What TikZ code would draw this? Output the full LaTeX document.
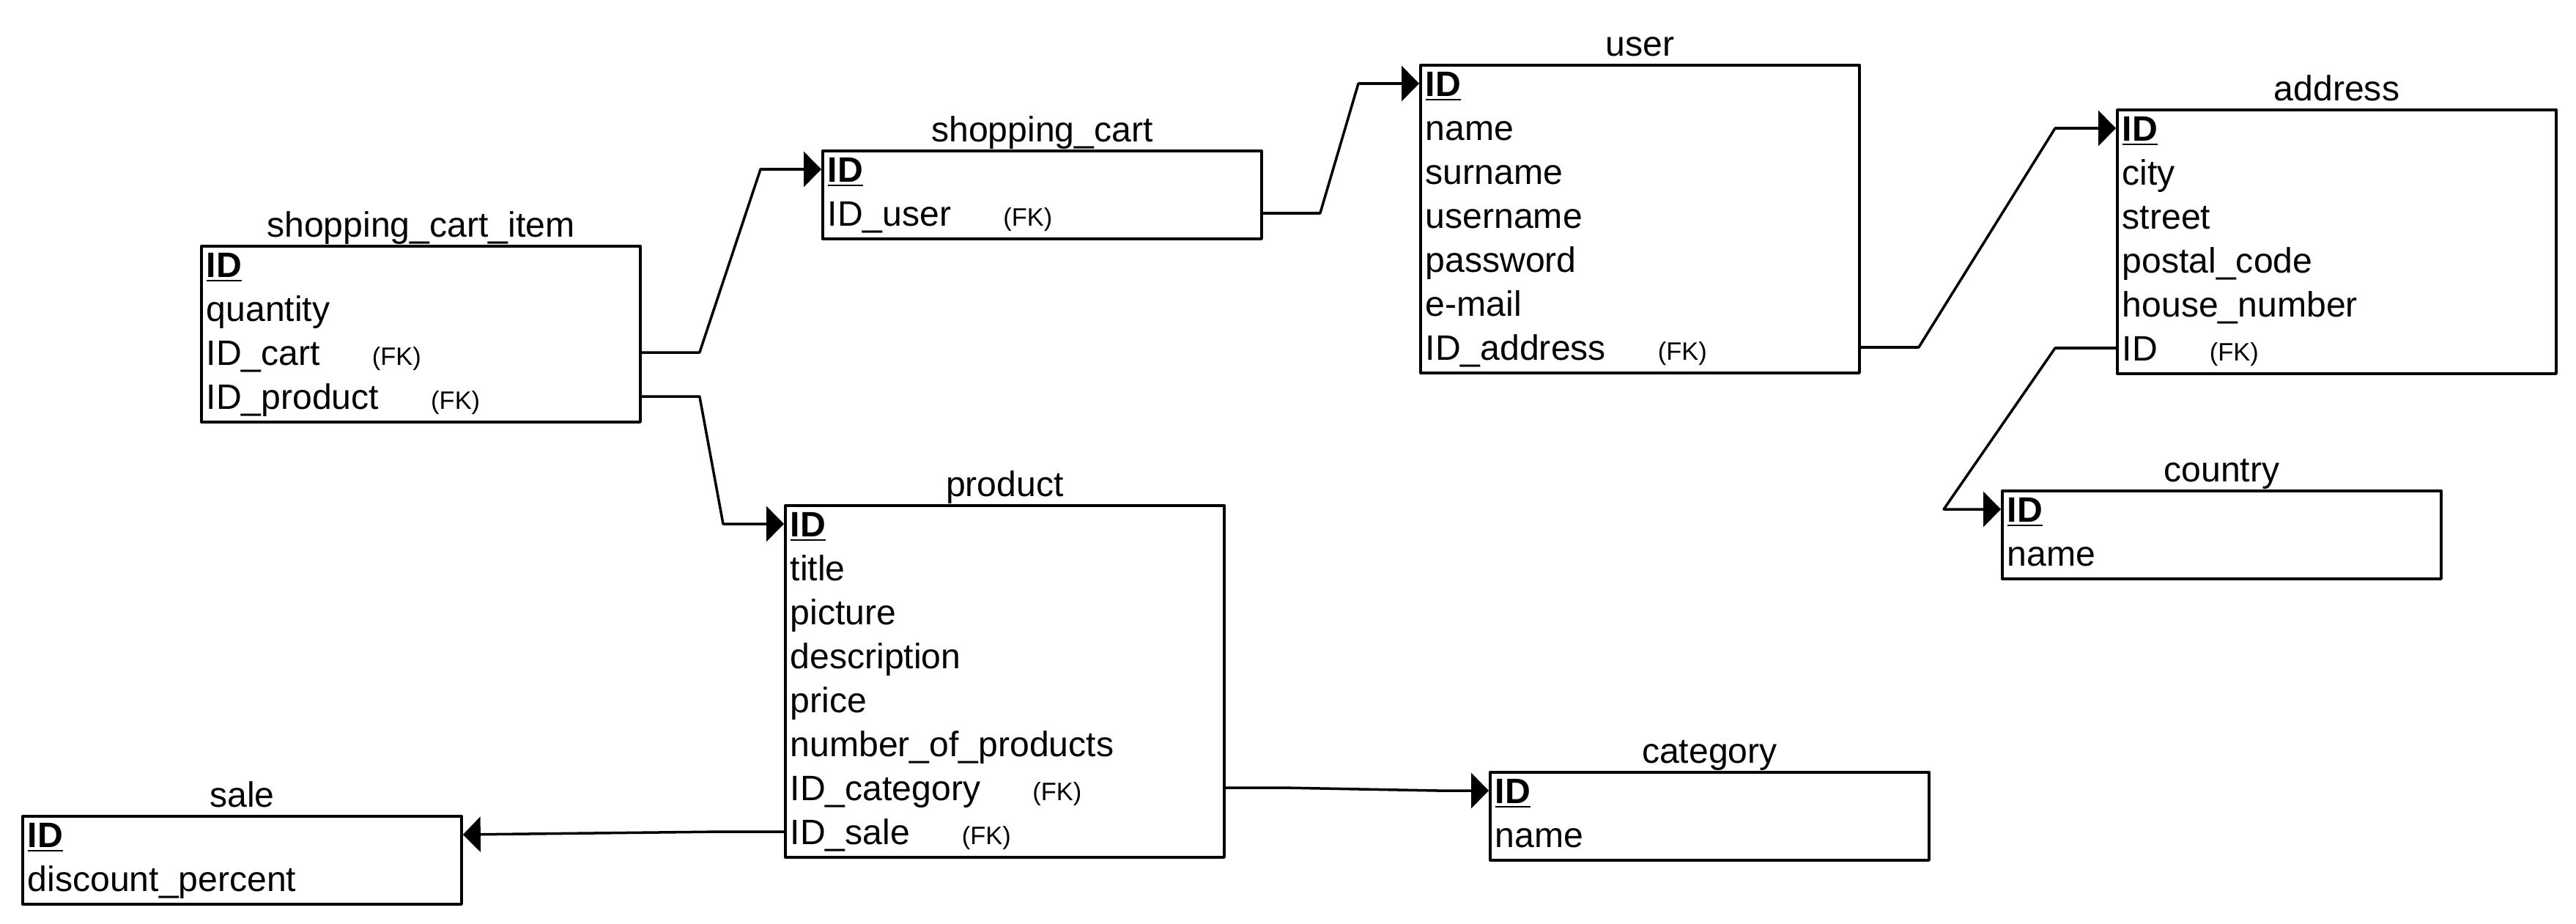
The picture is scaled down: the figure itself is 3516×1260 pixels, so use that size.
\documentclass[tikz,border=0pt]{standalone}
\usepackage{fontspec}
\setmainfont{Liberation Sans}
\usetikzlibrary{calc,arrows.meta}
\newcommand{\fk}{\hspace{7.1mm}{\fontsize{9.8}{11}\selectfont(FK)}}
\newcommand{\pk}{\textbf{\underline{ID}}}
\tikzset{erd/.style={
  x=0.1mm,y=-0.1mm,
  >={Triangle[length=2.4mm,width=4.8mm]},
  line join=round,font=\fontsize{13.7}{16}\selectfont
},
tablebox/.style={draw,line width=1.1pt,anchor=north west,minimum width=59.9mm,inner sep=0pt},
tabletitle/.style={anchor=base,inner sep=0pt},
field/.style={anchor=west,inner sep=0pt,text height=3.4mm,text depth=0pt},
fkline/.style={line width=1pt,->}
}
% name, x, y, rows, title, fields
\newcommand{\dbtable}[6]{%
  \node[tablebox,minimum height=#4*6mm] (#1) at (#2,#3) {};
  \node[tabletitle] (#1-t) at ([yshift=1.1mm]#1.north) {#5};
  \foreach \fld [count=\i] in {#6}
    \node[field] (#1-\i) at ([xshift=0.8mm,yshift={-2.7mm-(\i-1)*6mm}]#1.north west) {\fld};
}

\begin{document}
\begin{tikzpicture}[erd]
  \useasboundingbox (0,0) rectangle (3516,1260);

  \dbtable{sci}{273}{334}{4}{shopping\_cart\_item}{\pk, quantity, ID\_cart\fk, ID\_product\fk}
  \dbtable{cart}{1121}{204}{2}{shopping\_cart}{\pk, ID\_user\fk}
  \dbtable{user}{1937}{87}{7}{user}{\pk, name, surname, username, password, e-mail, ID\_address\fk}
  \dbtable{addr}{2888}{148}{6}{address}{\pk, city, street, postal\_code, house\_number, ID\fk}
  \dbtable{country}{2731}{668}{2}{country}{\pk, name}
  \dbtable{prod}{1070}{688}{8}{product}{\pk, title, picture, description, price, number\_of\_products, ID\_category\fk, ID\_sale\fk}
  \dbtable{cat}{2032}{1052}{2}{category}{\pk, name}
  \dbtable{sale}{29}{1112}{2}{sale}{\pk, discount\_percent}

  % foreign keys
  \draw[fkline] (sci.east |- sci-3) -- ++(79,0) -- ($(cart.west |- cart-1)+(-83,0)$) -- (cart.west |- cart-1);
  \draw[fkline] (sci.east |- sci-4) -- ++(79,0) -- ($(prod.west |- prod-1)+(-83,0)$) -- (prod.west |- prod-1);
  \draw[fkline] (cart.east |- cart-2) -- ++(78,0) -- ($(user.west |- user-1)+(-83,0)$) -- (user.west |- user-1);
  \draw[fkline] (user.east |- user-7) -- ++(79,0) -- ($(addr.west |- addr-1)+(-83,0)$) -- (addr.west |- addr-1);
  \draw[fkline] (addr.west |- addr-6) -- ++(-83,0) -- ($(country.west |- country-1)+(-78,0)$) -- (country.west |- country-1);
  \draw[fkline] (prod.east |- prod-7) -- ++(77,0) -- ($(cat.west |- cat-1)+(-70,0)$) -- (cat.west |- cat-1);
  \draw[fkline] (prod.west |- prod-8) -- ++(-83,0) -- (sale.east |- sale-1);
\end{tikzpicture}
\end{document}
